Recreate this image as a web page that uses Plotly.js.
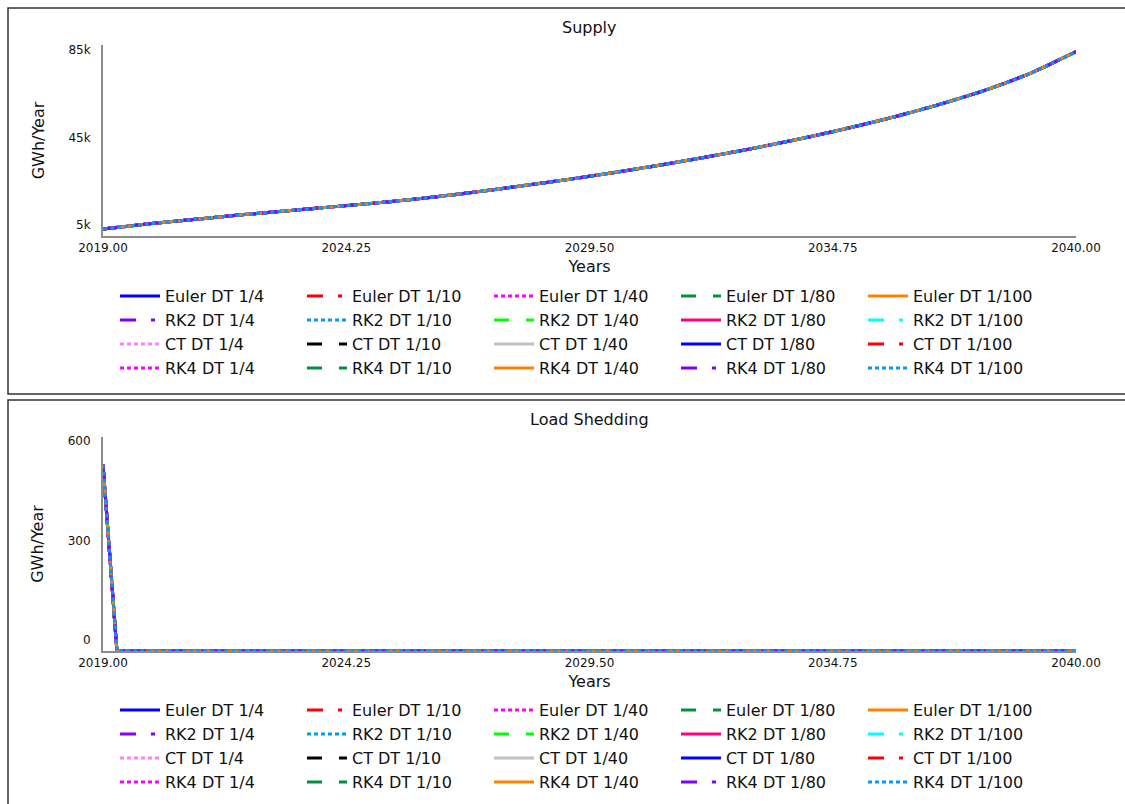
<!DOCTYPE html>
<html><head><meta charset="utf-8">
<script src="https://cdn.plot.ly/plotly-3.0.1.min.js"></script>
<style>html,body{margin:0;padding:0;background:#fff}</style>
</head><body><div id="chart" style="width:1125px;height:804px"></div>
<script>
// ---- data ----
const years = [2019,2020,2021,2022,2023,2024,2025,2026,2027,2028,2029,2030,2031,2032,2033,2034,2035,2036,2037,2038,2039,2040];
const supplyGWh = [7900,10100,12000,13900,15600,17300,19000,21000,23300,25900,28600,31500,34600,38000,41600,45500,49800,54500,59800,65800,73000,82200];
const shedTimes = [2019,2019.1,2019.2,2019.3,2040];
const shedGWh = [522,350,172,0,0];
const seriesNames = [
 'Euler DT 1/4','Euler DT 1/10','Euler DT 1/40','Euler DT 1/80','Euler DT 1/100',
 'RK2 DT 1/4','RK2 DT 1/10','RK2 DT 1/40','RK2 DT 1/80','RK2 DT 1/100',
 'CT DT 1/4','CT DT 1/10','CT DT 1/40','CT DT 1/80','CT DT 1/100',
 'RK4 DT 1/4','RK4 DT 1/10','RK4 DT 1/40','RK4 DT 1/80','RK4 DT 1/100'];
const seriesColors = [
 '#0000ff','#ff0000','#ff00ff','#009040','#ff8000',
 '#8000ff','#0099ff','#00ff00','#ff0080','#00ffff',
 '#ff80ff','#000000','#c0c0c0','#0000ff','#ff0000',
 '#ff00ff','#009040','#ff8000','#8000ff','#0099ff'];
const seriesDashes = [
 'solid','dashdot','dot','dashdash','solid',
 'dashdot','dot','dashdash','solid','dashdot',
 'dot','dashdash','solid','solid','dashdot',
 'dot','dashdash','solid','dashdot','dot'];
const xTickVals = [2019,2024.25,2029.5,2034.75,2040];
const xTickText = ['2019.00','2024.25','2029.50','2034.75','2040.00'];
const supplyRange = [5000,85000];
const supplyTickVals = [5000,45000,85000];
const supplyTickText = ['5k','45k','85k'];
const shedRange = [0,600];
const shedTickVals = [0,300,600];
const shedTickText = ['0','300','600'];

// ---- layout helpers (pixels -> paper) ----
const W = 1125, H = 804;
const px = x => x / W;
const py = y => 1 - y / H;
const dashMap = {solid:'solid', dot:'4px,3px', dashdot:'16px,15px,4px,5px', dashdash:'15px,17px,8px,10px'};
const FONT = 'DejaVu Sans, Verdana, sans-serif';
const PER_ROW = 5;

// Vensim-style label placement: labels spread between padded ends of the axis
function labelPositions(vals, range, axisPx, padLoPx, padHiPx) {
  const lo = range[0], hi = range[1];
  return vals.map(v => {
    const f = (v - lo) / (hi - lo);
    const pix = padLoPx + f * (axisPx - padLoPx - padHiPx);
    return lo + pix / axisPx * (hi - lo);
  });
}
const legendId = k => (k === 1 ? 'legend' : 'legend' + k);

const traces = [];
seriesNames.forEach((n, i) => {
  traces.push({x: years, y: supplyGWh, type: 'scatter', mode: 'lines', name: n,
    line: {color: seriesColors[i], width: 3, dash: dashMap[seriesDashes[i]], shape: 'spline', smoothing: 0.6},
    xaxis: 'x', yaxis: 'y', legend: legendId(1 + Math.floor(i / PER_ROW)), hoverinfo: 'skip'});
});
seriesNames.forEach((n, i) => {
  traces.push({x: shedTimes, y: shedGWh, type: 'scatter', mode: 'lines', name: n,
    line: {color: seriesColors[i], width: 3, dash: dashMap[seriesDashes[i]]},
    xaxis: 'x2', yaxis: 'y2', legend: legendId(5 + Math.floor(i / PER_ROW)), hoverinfo: 'skip'});
});

function xAxis(anchor, domain) {
  return {domain: domain, anchor: anchor, range: [2019, 2040], tickmode: 'array',
    tickvals: xTickVals, ticktext: xTickText, showline: true, linecolor: '#8c8c8c', linewidth: 2,
    showgrid: false, zeroline: false, ticks: '', tickfont: {size: 12, color: '#111', family: FONT},
    title: {text: 'Years', font: {size: 16, color: '#111', family: FONT}, standoff: 6}};
}
function yAxis(anchor, domain, range, vals, text, axisPx, padLo, padHi) {
  return {domain: domain, anchor: anchor, range: range, tickmode: 'array',
    tickvals: labelPositions(vals, range, axisPx, padLo, padHi), ticktext: text,
    showline: true, linecolor: '#8c8c8c', linewidth: 2, showgrid: false, zeroline: false, ticks: '',
    ticklabelstandoff: 8,
    tickfont: {size: 12, color: '#111', family: FONT},
    title: {text: 'GWh/Year', font: {size: 16, color: '#111', family: FONT}, standoff: 20}};
}

function legendAt(yTop) {
  return {orientation: 'h', x: px(115), xanchor: 'left', y: py(yTop), yanchor: 'top',
    entrywidthmode: 'pixels', entrywidth: 132, itemwidth: 40, traceorder: 'normal',
    bgcolor: 'rgba(0,0,0,0)', font: {size: 16, color: '#111', family: FONT}};
}

const layout = {
  width: W, height: H, margin: {l: 0, r: 0, t: 0, b: 0},
  paper_bgcolor: '#fff', plot_bgcolor: '#fff', showlegend: true,
  font: {family: FONT},
  xaxis: xAxis('y', [px(103), px(1076)]),
  yaxis: yAxis('x', [py(236), py(45)], supplyRange, supplyTickVals, supplyTickText, 191, 11, 5),
  xaxis2: xAxis('y2', [px(103), px(1076)]),
  yaxis2: yAxis('x2', [py(651), py(437)], shedRange, shedTickVals, shedTickText, 214, 11, 4),
  shapes: [
    {type: 'rect', xref: 'paper', yref: 'paper', x0: px(8), x1: px(1140), y0: py(394), y1: py(8),
     line: {color: '#333', width: 1.5}, fillcolor: 'rgba(0,0,0,0)', layer: 'below'},
    {type: 'rect', xref: 'paper', yref: 'paper', x0: px(8), x1: px(1140), y0: py(820), y1: py(400),
     line: {color: '#333', width: 1.5}, fillcolor: 'rgba(0,0,0,0)', layer: 'below'}
  ],
  annotations: [
    {text: 'Supply', xref: 'paper', yref: 'paper', x: px(589), y: py(27), xanchor: 'center', yanchor: 'middle',
     showarrow: false, font: {size: 16, color: '#111', family: FONT}},
    {text: 'Load Shedding', xref: 'paper', yref: 'paper', x: px(589), y: py(419), xanchor: 'center', yanchor: 'middle',
     showarrow: false, font: {size: 16, color: '#111', family: FONT}}
  ]
};
// one legend per row: rows 1-4 for the top panel, rows 5-8 for the bottom panel
const legendTops = [279, 303, 327, 351, 693, 717, 741, 765];
legendTops.forEach((t, k) => { layout[legendId(k + 1)] = legendAt(t); });

Plotly.newPlot('chart', traces, layout, {staticPlot: true, displayModeBar: false});
</script></body></html>
